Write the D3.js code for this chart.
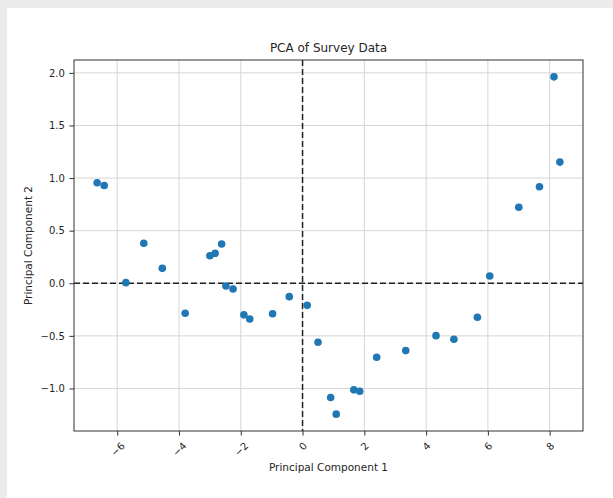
<!DOCTYPE html>
<html>
<head>
<meta charset="utf-8">
<script src="https://d3js.org/d3.v7.min.js"></script>
<style>
  body { margin: 0; background: #ebebeb; }
  #panel { position: absolute; left: 7px; top: 8px; width: 606px; height: 490px; background: #fff; }
  svg { position: absolute; left: 0; top: 0; }
  text { font-family: "DejaVu Sans", sans-serif; fill: #262626; }
</style>
</head>
<body>
<div id="panel"></div>
<script>
// PCA scores
var pc1 = [-6.65, -6.42, -5.72, -5.14, -4.54, -3.80, -3.00, -2.83, -2.62, -2.48, -2.25,
           -1.90, -1.71, -0.97, -0.43, 0.15, 0.50, 0.91, 1.09, 1.66, 1.85, 2.40,
           3.34, 4.32, 4.90, 5.66, 6.06, 7.00, 7.67, 8.14, 8.33];
var pc2 = [0.955, 0.93, 0.006, 0.38, 0.142, -0.285, 0.262, 0.285, 0.373, -0.026, -0.054,
           -0.30, -0.34, -0.29, -0.127, -0.21, -0.56, -1.086, -1.244, -1.013, -1.026, -0.703,
           -0.64, -0.498, -0.532, -0.323, 0.069, 0.722, 0.917, 1.962, 1.152];
var xTicks = [-6, -4, -2, 0, 2, 4, 6, 8];
var yTicks = [-1.0, -0.5, 0.0, 0.5, 1.0, 1.5, 2.0];

var title = "PCA of Survey Data";
var xLabel = "Principal Component 1";
var yLabel = "Principal Component 2";

var width = 613,
    height = 498;
var margin = {left: 74, right: 30, top: 60, bottom: 67};

var svg = d3.select("body").append("svg")
    .attr("width", width)
    .attr("height", height);

var points = pc1.map(function(d, i) { return {x: d, y: pc2[i]}; });

// matplotlib style 5% padding
function padded(ext) {
  var pad = (ext[1] - ext[0]) * 0.05;
  return [ext[0] - pad, ext[1] + pad];
}

var x = d3.scaleLinear()
    .domain(padded(d3.extent(pc1)))
    .range([margin.left, width - margin.right]);
var y = d3.scaleLinear()
    .domain(padded(d3.extent(pc2)))
    .range([height - margin.bottom, margin.top]);

var x0 = margin.left, x1 = width - margin.right,
    y0 = margin.top, y1 = height - margin.bottom;

// grid
var grid = svg.append("g");
grid.selectAll(".gx").data(xTicks).enter().append("line")
    .attr("x1", function(d) { return x(d); })
    .attr("x2", function(d) { return x(d); })
    .attr("y1", y0).attr("y2", y1)
    .attr("stroke", "#d6d6d6").attr("stroke-width", 1);
grid.selectAll(".gy").data(yTicks).enter().append("line")
    .attr("y1", function(d) { return y(d); })
    .attr("y2", function(d) { return y(d); })
    .attr("x1", x0).attr("x2", x1)
    .attr("stroke", "#d6d6d6").attr("stroke-width", 1);

// zero lines
svg.append("line")
    .attr("x1", x0).attr("x2", x1)
    .attr("y1", y(0)).attr("y2", y(0))
    .attr("stroke", "#222").attr("stroke-width", 1.5)
    .attr("stroke-dasharray", "6,3");
svg.append("line")
    .attr("x1", x(0)).attr("x2", x(0))
    .attr("y1", y0).attr("y2", y1)
    .attr("stroke", "#222").attr("stroke-width", 1.5)
    .attr("stroke-dasharray", "6,3");

// points
svg.selectAll("circle").data(points).enter().append("circle")
    .attr("cx", function(d) { return x(d.x); })
    .attr("cy", function(d) { return y(d.y); })
    .attr("r", 3.8)
    .attr("fill", "#1f77b4");

// frame
svg.append("rect")
    .attr("x", x0).attr("y", y0)
    .attr("width", x1 - x0).attr("height", y1 - y0)
    .attr("fill", "none").attr("stroke", "#333").attr("stroke-width", 1);

function fmt(d) { return d3.format(".1f")(d).replace("-", "\u2212"); }

// y axis
var yAxis = svg.append("g")
    .attr("transform", "translate(" + x0 + ",0)")
    .call(d3.axisLeft(y).tickValues(yTicks).tickSize(4.6).tickPadding(4.5).tickFormat(fmt));
yAxis.select(".domain").remove();
yAxis.selectAll(".tick line").attr("stroke", "#333");
yAxis.selectAll(".tick text")
    .attr("font-size", "10px")
    .attr("font-family", "DejaVu Sans, sans-serif")
    .attr("fill", "#262626");

// x axis with 45 degree labels
var xAxis = svg.append("g")
    .attr("transform", "translate(0," + y1 + ")")
    .call(d3.axisBottom(x).tickValues(xTicks).tickSize(4.6).tickFormat(function(d) {
      return String(d).replace("-", "\u2212");
    }));
xAxis.select(".domain").remove();
xAxis.selectAll(".tick line").attr("stroke", "#333");
xAxis.selectAll(".tick text")
    .attr("font-size", "10px")
    .attr("font-family", "DejaVu Sans, sans-serif")
    .attr("fill", "#262626")
    .attr("dy", null)
    .attr("y", 0)
    .attr("text-anchor", "middle")
    .attr("dominant-baseline", "central")
    .each(function() {
      var b = this.getBBox();
      var half = (b.width + b.height) * Math.SQRT1_2 / 2;
      d3.select(this).attr("transform", "translate(0," + (4.6 + 4.6 + half) + ") rotate(-45)");
    });

// title and labels
svg.append("text")
    .attr("x", (x0 + x1) / 2).attr("y", y0 - 8)
    .attr("text-anchor", "middle")
    .attr("font-size", "12px")
    .text(title);
svg.append("text")
    .attr("x", (x0 + x1) / 2).attr("y", 471)
    .attr("text-anchor", "middle")
    .attr("font-size", "10.5px")
    .text(xLabel);
svg.append("text")
    .attr("transform", "translate(32," + ((y0 + y1) / 2) + ") rotate(-90)")
    .attr("text-anchor", "middle")
    .attr("font-size", "10.5px")
    .text(yLabel);
</script>
</body>
</html>
